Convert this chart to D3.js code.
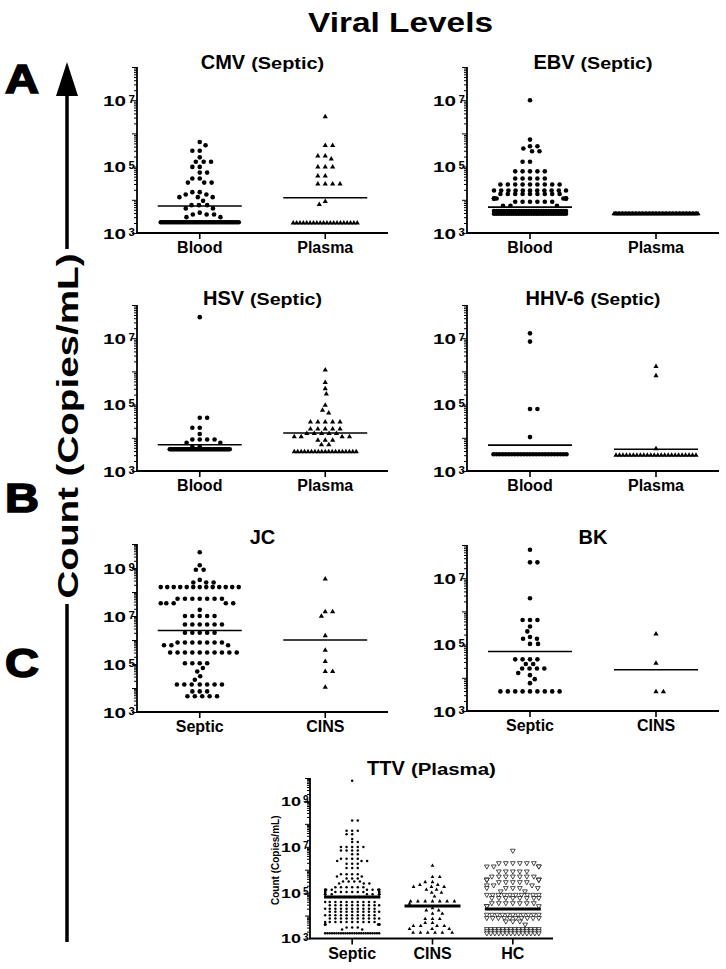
<!DOCTYPE html>
<html><head><meta charset="utf-8">
<script src="https://cdn.jsdelivr.net/npm/d3@7"></script>
<style>
body{margin:0;background:#fff}
svg{display:block}
text{font-family:"Liberation Sans",Arimo,Arial,Helvetica,sans-serif;font-weight:bold;fill:#000}
</style>
</head><body>
<svg id="chart" width="726" height="969"></svg>
<script>
// ---------------- DATA (values in copies/mL, rows as [value, count]) ----------------
const catsBloodPlasma = ["Blood", "Plasma"];
const catsSepticCins = ["Septic", "CINS"];
const catsTTV = ["Septic", "CINS", "HC"];

const cmvBlood = [[5.5e5,1],[4.4e5,1],[3.0e5,2],[1.9e5,1],[1.4e5,3],[9.8e4,2],[6.6e4,2],[4.4e4,2],[3.3e4,3],[1.7e4,2],[1.45e4,2],[1.2e4,3],[9.3e3,1],[6.9e3,3],[5.5e3,2],[4.1e3,1],[3.6e3,3],[3.0e3,2],[2.1e3,45]];
const cmvPlasma = [[3.2e6,1],[4.3e5,2],[2.1e5,2],[1.7e5,1],[9.8e4,3],[5.2e4,2],[3.0e4,4],[8.9e3,1],[7.2e3,1],[2.0e3,20]];
const cmvMeans = [6.5e3, 1.15e4];

const ebvBlood = [[1.0e7,1],[6.5e5,1],[4.1e5,2],[3.5e5,1],[2.9e5,2],[1.4e5,2],[7.2e4,5],[4.4e4,5],[2.9e4,9],[1.9e4,11],[1.5e4,9],[1.1e4,8],[8.7e3,6],[6.6e3,3],[4.6e3,30],[3.8e3,30]];
const ebvPlasma = [[3.8e3,60]];
const ebvMeans = [6.0e3, 3.8e3];

const hsvBlood = [[4.3e7,1],[4.0e4,2],[2.0e4,2],[1.3e4,1],[8.9e3,4],[7.1e3,2],[5.4e3,2],[4.5e3,45]];
const hsvPlasma = [[1.1e6,1],[4.6e5,1],[3.0e5,1],[2.1e5,1],[9.5e4,1],[6.8e4,1],[5.6e4,1],[3.0e4,5],[1.85e4,5],[1.35e4,5],[1.07e4,4],[8.5e3,3],[6.2e3,2],[3.8e3,19]];
const hsvMeans = [6.2e3, 1.4e4];

const hhv6Blood = [[1.4e7,1],[7.9e6,1],[7.4e4,2],[1.05e4,1],[3.2e3,25]];
const hhv6Plasma = [[1.4e6,1],[7.4e5,1],[4.7e3,1],[3.0e3,24]];
const hhv6Means = [6.0e3, 4.5e3];

const jcSeptic = [[4.5e9,1],[1.3e9,1],[8.5e8,2],[3.2e8,1],[2.5e8,3],[1.6e8,13],[5.2e7,7],[3.4e7,5],[1.8e7,1],[1.0e7,5],[4.4e6,6],[2.0e6,5],[7.9e5,7],[6.0e5,3],[3.0e5,10],[1.07e5,4],[6.8e4,1],[4.9e4,1],[3.1e4,1],[2.2e4,1],[1.4e4,7],[7.2e3,3],[4.5e3,5]];
const jcCins = [[3.5e8,1],[1.5e7,2],[9.8e6,1],[1.5e6,1],[3.7e5,1],[1.26e5,1],[4.9e4,2],[1.07e4,1]];
const jcMeans = [2.5e6, 1.0e6];

const bkSeptic = [[7.2e7,1],[3.0e7,2],[2.5e6,1],[5.5e5,3],[3.5e5,1],[2.5e5,1],[1.7e5,1],[1.5e5,2],[1.05e5,2],[3.6e4,4],[2.6e4,2],[1.9e4,4],[1.4e4,1],[1.2e4,1],[9.1e3,1],[6.9e3,1],[3.9e3,9]];
const bkCins = [[2.1e5,1],[2.75e4,1],[3.8e3,2]];
const bkMeans = [6.2e4, 1.75e4];

const ttvSeptic = [[7.6e9,1],[1.4e8,2],[5.0e7,3],[3.5e7,2],[2.2e7,1],[1.6e7,2],[9.8e6,5],[6.9e6,4],[4.7e6,2],[3.0e6,4],[2.4e6,3],[1.8e6,3],[1.2e6,3],[6.3e5,4],[5.1e5,2],[4.1e5,3],[3.1e5,4],[2.5e5,3],[1.7e5,6],[1.35e5,9],[1.07e5,10],[8.5e4,9],[6.5e4,12],[3.9e4,10],[2.8e4,10],[2.0e4,10],[1.45e4,10],[1.02e4,10],[7.4e3,10],[5.2e3,10],[4.1e3,9],[3.0e3,3],[2.5e3,2],[1.7e3,25]];
const ttvCins = [[1.5e6,1],[4.8e5,2],[2.9e5,2],[2.2e5,2],[1.8e5,3],[1.35e5,2],[1.0e5,2],[6.9e4,1],[4.2e4,7],[3.3e4,1],[2.1e4,1],[1.7e4,2],[1.2e4,2],[7.2e3,3],[4.8e3,2],[3.5e3,4],[2.6e3,3],[1.8e3,6]];
const ttvHc = [[6.8e6,1],[1.95e6,6],[1.4e6,4],[8.5e5,5],[5.1e5,7],[3.7e5,6],[2.9e5,5],[2.1e5,3],[1.6e5,5],[1.15e5,2],[8.1e4,10],[5.9e4,8],[3.5e4,7],[2.6e4,3],[1.1e4,11],[7.9e3,10],[5.6e3,3],[4.1e3,1],[2.6e3,14],[2.1e3,14],[1.7e3,14]];
const ttvMeans = [6.5e4, 2.6e4, 1.95e4];

const labelExpsA = [3, 5, 7];
const labelExpsB = [3, 5, 7, 9];

// ---------------- LAYOUT / STYLE ----------------
const big = {r:2.3, tri:5.2, otri:4.8, sp:[7.4,7.4], dv:[5.2,5.2], meanHalf:42, meanW:1.6,
  lab:{x10:-34, w10:23, fs:15.5, sx:-8.5, sfs:11.5}};
const small = {r:1.25, tri:3.8, otri:4.8, sp:[5.6,7.3,7.0], dv:[3.0,4.0,4.8], meanHalf:28, meanW:3,
  lab:{x10:-29, w10:20, fs:13.5, sx:-7, sfs:10}};
const panels = [
  {title:"CMV", sub:"(Septic)", subW:73, titleY:69, x0:137, xr:[137,388], yTop:67, yBot:233, expMax:8, labels:labelExpsA, cats:catsBloodPlasma,
   groups:[cmvBlood,cmvPlasma], means:cmvMeans, marks:["dot","tri"], maxW:[78,64], st:big},
  {title:"EBV", sub:"(Septic)", subW:72, titleY:69, x0:467, xr:[467,719], yTop:67, yBot:233, expMax:8, labels:labelExpsA, cats:catsBloodPlasma,
   groups:[ebvBlood,ebvPlasma], means:ebvMeans, marks:["dot","tri"], maxW:[72,84], st:big},
  {title:"HSV", sub:"(Septic)", subW:72, titleY:304.5, x0:137, xr:[137,388], yTop:305, yBot:471, expMax:8, labels:labelExpsA, cats:catsBloodPlasma,
   groups:[hsvBlood,hsvPlasma], means:hsvMeans, marks:["dot","tri"], maxW:[60,62], st:big},
  {title:"HHV-6", sub:"(Septic)", subW:70, titleY:304.5, x0:467, xr:[467,719], yTop:305, yBot:471, expMax:8, labels:labelExpsA, cats:catsBloodPlasma,
   groups:[hhv6Blood,hhv6Plasma], means:hhv6Means, marks:["dot","tri"], maxW:[73,80], st:big},
  {title:"JC", sub:"", subW:0, titleY:543.5, x0:137, xr:[137,388], yTop:544, yBot:712, expMax:10, labels:labelExpsB, cats:catsSepticCins,
   groups:[jcSeptic,jcCins], means:jcMeans, marks:["dot","tri"], maxW:[78,60], st:big},
  {title:"BK", sub:"", subW:0, titleY:543.5, x0:467, xr:[467,719], yTop:545, yBot:711, expMax:8, labels:labelExpsA, cats:catsSepticCins,
   groups:[bkSeptic,bkCins], means:bkMeans, marks:["dot","tri"], maxW:[60,60], st:big},
  {title:"TTV", sub:"(Plasma)", subW:85, titleY:775, x0:310, xr:[312,553], yTop:778, yBot:938.5, expMax:10, labels:labelExpsB, cats:catsTTV,
   groups:[ttvSeptic,ttvCins,ttvHc], means:ttvMeans, marks:["dot","tri","otri"], maxW:[54,46,52], st:small, ylab:true}
];

const svg = d3.select("#chart");

// Main title
svg.append("text").attr("x",308).attr("y",32).attr("font-size",27)
  .attr("textLength",185).attr("lengthAdjust","spacingAndGlyphs").text("Viral Levels");

// Big left arrow + label + section letters
const arrowX = 67;
svg.append("line").attr("x1",arrowX).attr("x2",arrowX).attr("y1",90).attr("y2",249)
  .attr("stroke","#000").attr("stroke-width",3.5);
svg.append("line").attr("x1",arrowX).attr("x2",arrowX).attr("y1",604).attr("y2",942)
  .attr("stroke","#000").attr("stroke-width",3.5);
svg.append("path").attr("d",`M${arrowX},62 L${arrowX-11},96 L${arrowX+11},96 Z`).attr("fill","#000");
svg.append("text").attr("transform",`translate(${arrowX+11},426) rotate(-90)`)
  .attr("text-anchor","middle").attr("font-size",30).attr("textLength",345)
  .attr("lengthAdjust","spacingAndGlyphs").text("Count (Copies/mL)");
[["A",93],["B",512],["C",677]].forEach(([t,yy])=>{
  svg.append("text").attr("x",5).attr("y",yy).attr("font-size",40).attr("textLength",34)
    .attr("lengthAdjust","spacingAndGlyphs").attr("stroke","#000").attr("stroke-width",1.6).text(t);
});

// beeswarm-style placement (elliptic collision); crowded identical rows are squeezed into maxW
function swarm(rows, sp, dv, maxW, yf){
  const out = [], free = [];
  const half = maxW/2;
  rows.forEach(([v,n])=>{
    if (n>1 && (n-1)*sp > maxW){
      const s = maxW/(n-1);
      for (let i=0;i<n;i++) out.push({v, dx:(i-(n-1)/2)*s});
    } else for (let i=0;i<n;i++) free.push(v);
  });
  free.sort((a,b)=>b-a);
  const placed = []; let side = 1;
  free.forEach(v=>{
    const py = yf(v);
    const iv = [];
    placed.forEach(q=>{
      const dy = Math.abs(q.py-py);
      if (dy < dv){ const w = sp*Math.sqrt(1-(dy*dy)/(dv*dv)); iv.push([q.dx-w, q.dx+w]); }
    });
    const cands = [0];
    iv.forEach(([a,b])=>cands.push(a,b));
    let best = null;
    cands.forEach(c=>{
      if (iv.some(([a,b])=>c>a+1e-6 && c<b-1e-6)) return;
      if (best===null || Math.abs(c) < Math.abs(best)-1e-6 ||
          (Math.abs(Math.abs(c)-Math.abs(best))<1e-6 && Math.sign(c)===side)) best = c;
    });
    if (best !== 0) side = -Math.sign(best);
    if (best > half) best = half;
    if (best < -half) best = -half;
    placed.push({py, dx:best});
    out.push({v, dx:best});
  });
  return out;
}

panels.forEach(p=>{
  const g = svg.append("g");
  const st = p.st;
  const y = d3.scaleLog().domain([1e3, Math.pow(10,p.expMax)]).range([p.yBot, p.yTop]);
  const x = d3.scaleBand().domain(p.cats).range(p.xr);
  const x1 = p.xr[1];

  // y axis ticks
  const minors = [], decades = [];
  for (let e=3;e<p.expMax;e++){ for(let k=2;k<=9;k++) minors.push(k*Math.pow(10,e)); }
  for (let e=3;e<=p.expMax;e++) decades.push(Math.pow(10,e));
  const ya = g.append("g").attr("transform",`translate(${p.x0},0)`);
  ya.call(d3.axisLeft(y).tickValues(minors).tickSize(3).tickSizeOuter(0).tickFormat(""));
  ya.append("g").call(d3.axisLeft(y).tickValues(decades).tickSize(5).tickSizeOuter(0).tickFormat(""));
  ya.selectAll("path.domain").attr("stroke","none");
  ya.selectAll("line").attr("stroke","#000").attr("stroke-width",1);
  g.append("line").attr("x1",p.x0).attr("x2",p.x0).attr("y1",p.yTop).attr("y2",p.yBot)
    .attr("stroke","#000").attr("stroke-width",1.8);

  // y labels 10^n
  p.labels.forEach(e=>{
    const yy = y(Math.pow(10,e));
    g.append("text").attr("x",p.x0+st.lab.x10).attr("y",yy+st.lab.fs*0.37).attr("font-size",st.lab.fs)
      .attr("textLength",st.lab.w10).attr("lengthAdjust","spacingAndGlyphs").text("10");
    g.append("text").attr("x",p.x0+st.lab.sx).attr("y",yy+2.5).attr("font-size",st.lab.sfs).text(String(e));
  });

  // x axis
  const xa = g.append("g").attr("transform",`translate(0,${p.yBot})`);
  xa.call(d3.axisBottom(x).tickSize(6).tickSizeOuter(0).tickFormat(""));
  xa.selectAll("path.domain").attr("stroke","none");
  xa.selectAll("line").attr("stroke","#000").attr("stroke-width",1.6);
  g.append("line").attr("x1",p.x0-1).attr("x2",x1).attr("y1",p.yBot).attr("y2",p.yBot)
    .attr("stroke","#000").attr("stroke-width",1.8);
  p.cats.forEach(c=>{
    g.append("text").attr("x",x(c)+x.bandwidth()/2).attr("y",p.yBot+20).attr("text-anchor","middle")
      .attr("font-size",16).text(c);
  });

  // title
  const cx = (p.x0 + x1)/2;
  const tMain = g.append("text").attr("y",p.titleY).attr("font-size",20).text(p.title);
  const mw = tMain.node().getComputedTextLength();
  const total = mw + (p.sub ? 6 + p.subW : 0);
  const sx = cx - total/2;
  tMain.attr("x",sx);
  if (p.sub){
    g.append("text").attr("x",sx+mw+6).attr("y",p.titleY).attr("font-size",16)
      .attr("textLength",p.subW).attr("lengthAdjust","spacingAndGlyphs").text(p.sub);
  }

  // small y label for TTV
  if (p.ylab){
    g.append("text").attr("transform",`translate(279,${(p.yTop+p.yBot)/2+2}) rotate(-90)`)
      .attr("text-anchor","middle").attr("font-size",10).text("Count (Copies/mL)");
  }

  // points
  p.groups.forEach((rows,gi)=>{
    const c = x(p.cats[gi]) + x.bandwidth()/2;
    const pts = swarm(rows, st.sp[gi], st.dv[gi], p.maxW[gi], y);
    const mk = p.marks[gi];
    const gg = g.append("g");
    const triD = d3.symbol(d3.symbolTriangle, Math.sqrt(3)/4*st.tri*st.tri)();
    const otriD = d3.symbol(d3.symbolTriangle, Math.sqrt(3)/4*st.otri*st.otri)();
    pts.forEach(d=>{
      const px = c + d.dx, py = y(d.v);
      if (mk==="dot"){
        gg.append("circle").attr("cx",px).attr("cy",py).attr("r",st.r).attr("fill","#000");
      } else if (mk==="tri"){
        gg.append("path").attr("d",triD).attr("transform",`translate(${px},${py})`).attr("fill","#000");
      } else {
        gg.append("path").attr("d",otriD).attr("transform",`translate(${px},${py}) rotate(180)`)
          .attr("fill","#fff").attr("stroke","#000").attr("stroke-width",0.7);
      }
    });
    // mean line
    const my = y(p.means[gi]);
    g.append("line").attr("x1",c-st.meanHalf).attr("x2",c+st.meanHalf).attr("y1",my).attr("y2",my)
      .attr("stroke","#000").attr("stroke-width",st.meanW);
  });
});
</script>
</body></html>
